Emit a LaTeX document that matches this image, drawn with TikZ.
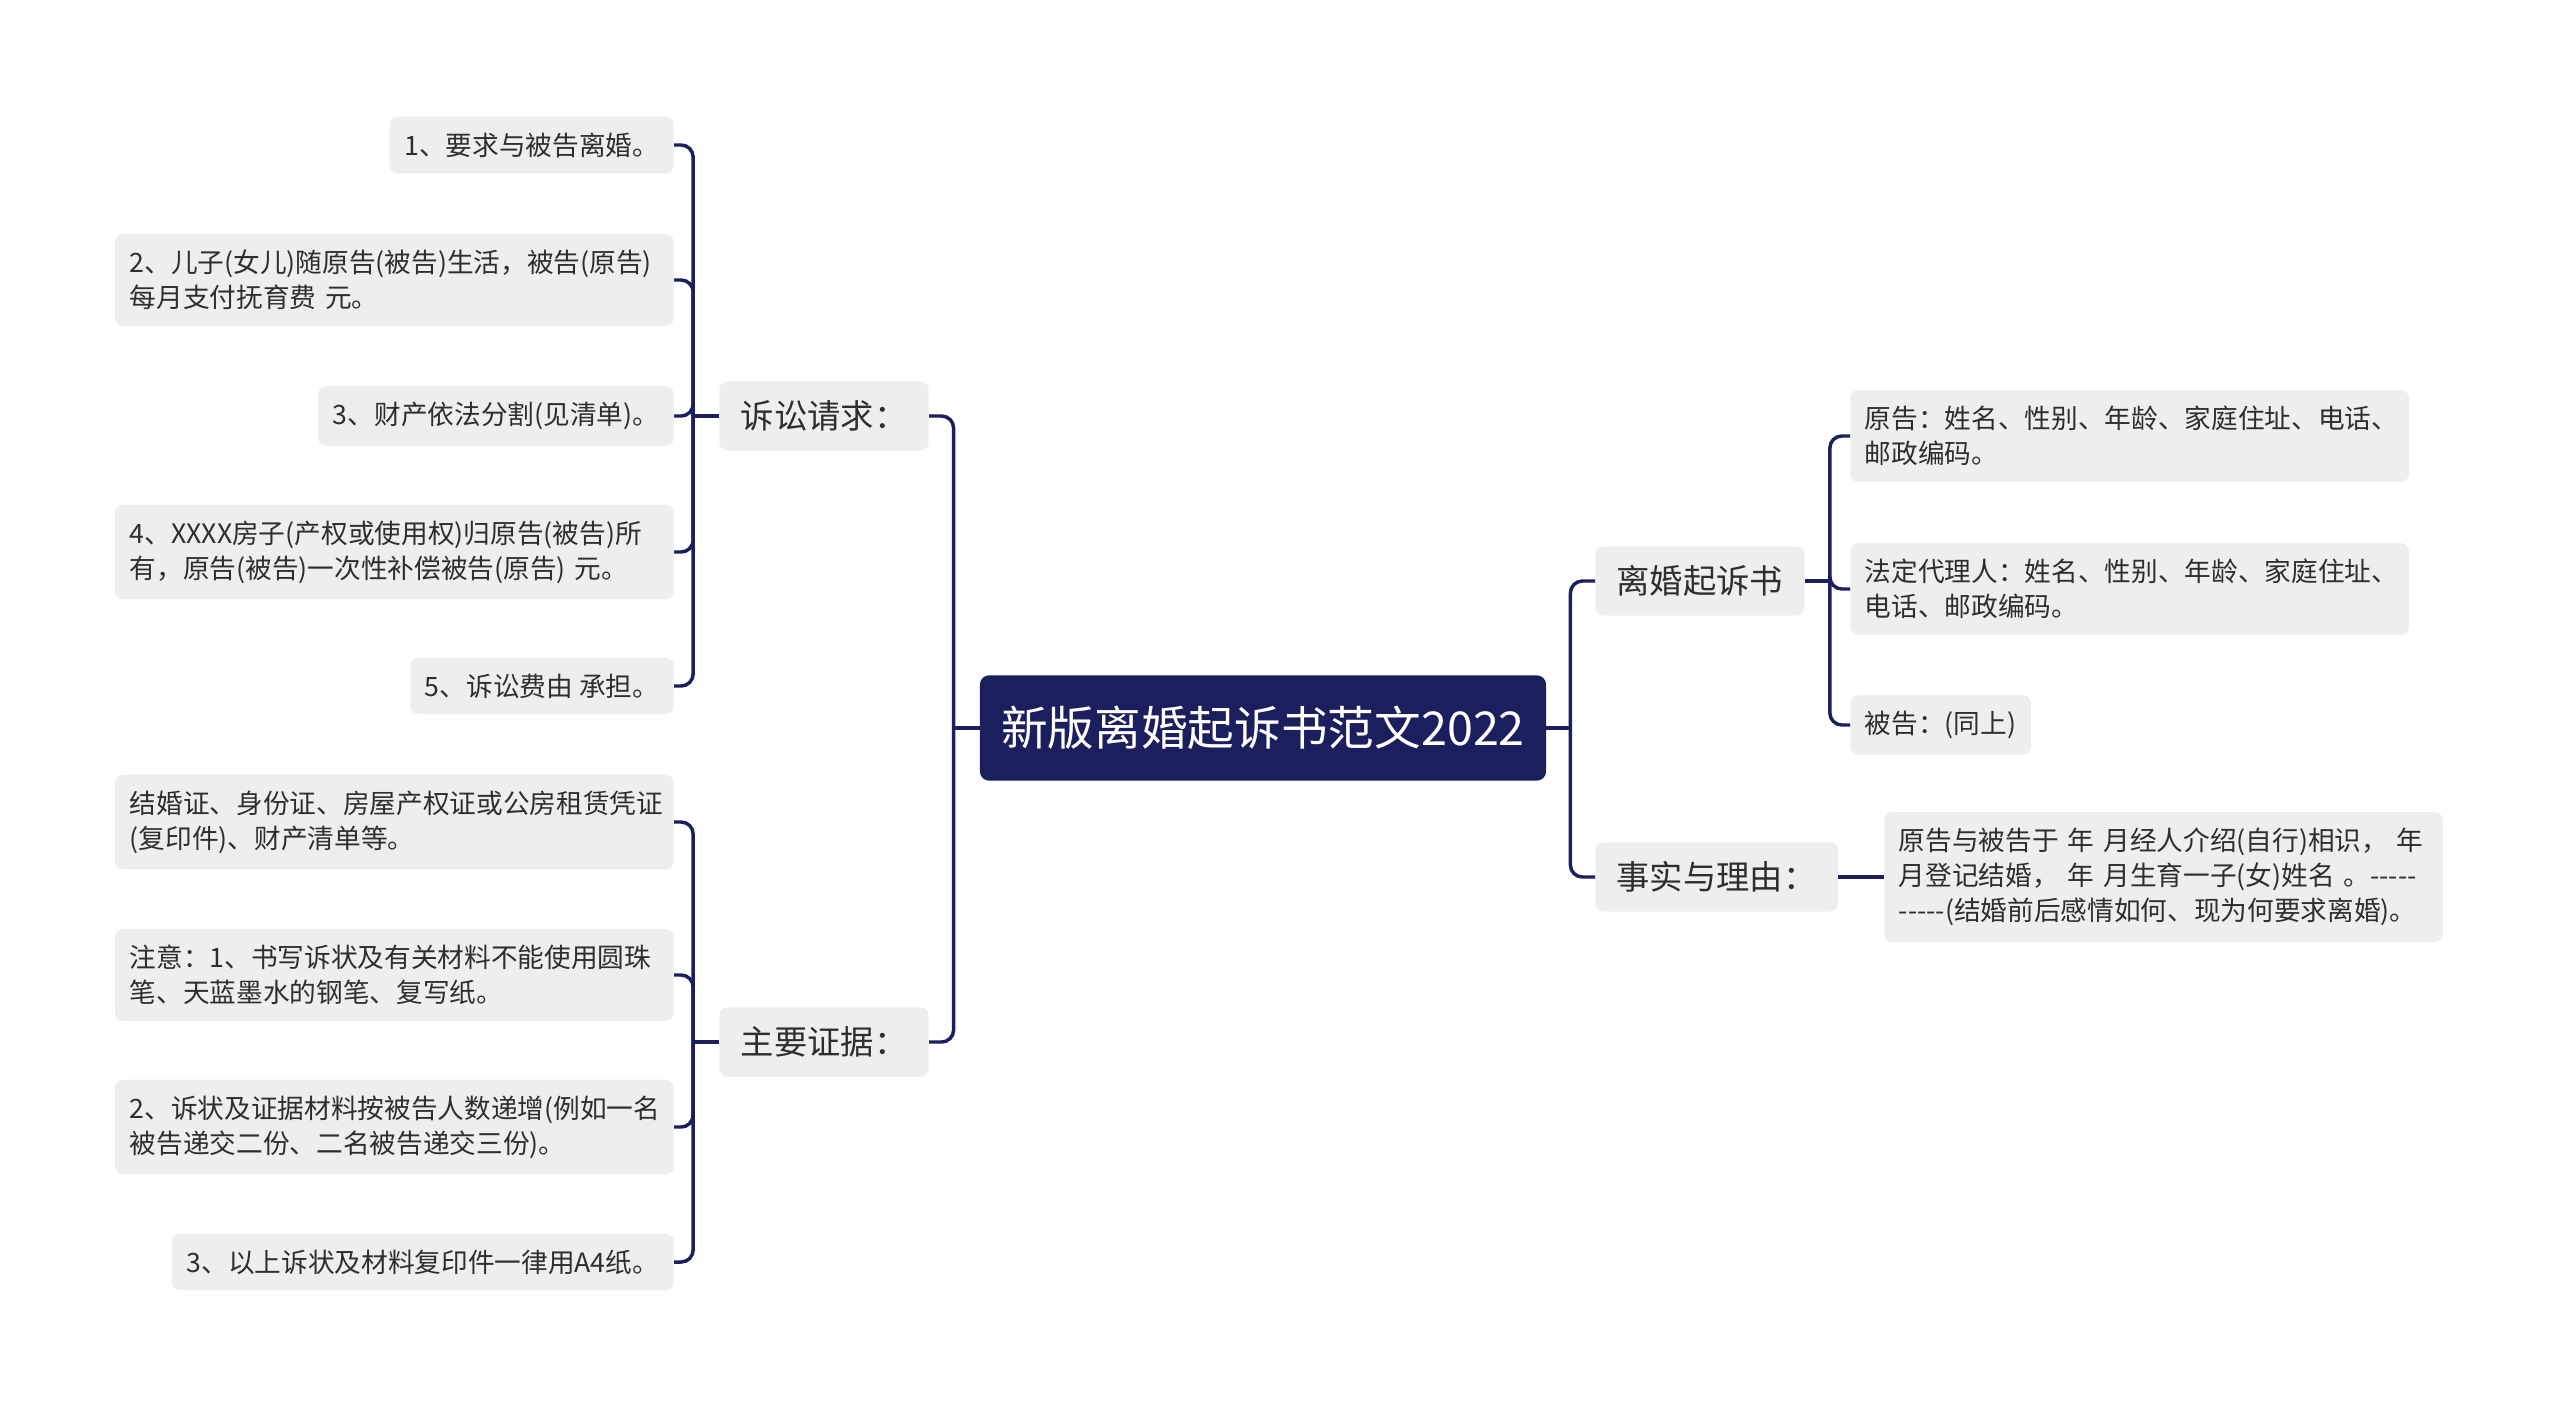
\documentclass[tikz,border=0pt]{standalone}
\usepackage{fontspec}
\setmainfont{Noto Sans CJK SC}
\usetikzlibrary{positioning}

\definecolor{navy}{HTML}{1B1F5E}
\definecolor{leafgray}{HTML}{EEEEEE}
\definecolor{txtgray}{HTML}{2E2E2E}
\newcommand\fivedash{-\kern0pt-\kern0pt-\kern0pt-\kern0pt-}

\begin{document}
\begin{tikzpicture}[x=0.75pt, y=-0.75pt,
    conn/.style={draw=navy, line width=2.6pt, rounded corners=9pt},
    rootbox/.style={fill=navy, text=white, rounded corners=7pt, inner xsep=16pt,
      minimum height=79pt, font=\fontsize{35}{40}\selectfont},
    catbox/.style={fill=leafgray, text=txtgray, rounded corners=6pt, inner xsep=16pt,
      minimum height=52pt, font=\fontsize{25}{28}\selectfont},
    leafbox/.style={fill=leafgray, text=txtgray, rounded corners=6pt, inner xsep=11pt,
      inner ysep=12pt, align=left, font=\fontsize{20}{26.25}\selectfont},
    widebox/.style={leafbox, text width=397pt}]

  \useasboundingbox (0,0) rectangle (2560,1407);

  % Centre
  \node[rootbox] (root) at (1263,728) {新版离婚起诉书范文2022};

  % Branches
  \node[catbox, anchor=east] (claim) at (929,416) {诉讼请求：};
  \node[catbox, anchor=east] (proof) at (929,1042) {主要证据：};
  \node[catbox, anchor=west] (party) at (1595,581) {离婚起诉书};
  \node[catbox, anchor=west] (facts) at (1595,877) {事实与理由：};

  % Claims
  \node[leafbox, anchor=east] (c1) at (674,145) {1、要求与被告离婚。};
  \node[widebox, anchor=east] (c2) at (674,280) {2、儿子(女儿)随原告(被告)生活，被告(原告)\\每月支付抚育费 元。};
  \node[leafbox, anchor=east] (c3) at (674,416) {3、财产依法分割(见清单)。};
  \node[widebox, anchor=east] (c4) at (674,552) {4、XXXX房子(产权或使用权)归原告(被告)所\\有，原告(被告)一次性补偿被告(原告) 元。};
  \node[leafbox, anchor=east] (c5) at (674,686) {5、诉讼费由 承担。};

  % Evidence
  \node[widebox, anchor=east] (p1) at (674,822) {结婚证、身份证、房屋产权证或公房租赁凭证\\(复印件)、财产清单等。};
  \node[widebox, anchor=east] (p2) at (674,975) {注意：1、书写诉状及有关材料不能使用圆珠\\笔、天蓝墨水的钢笔、复写纸。};
  \node[widebox, anchor=east] (p3) at (674,1127) {2、诉状及证据材料按被告人数递增(例如一名\\被告递交二份、二名被告递交三份)。};
  \node[leafbox, anchor=east] (p4) at (674,1262) {3、以上诉状及材料复印件一律用A4纸。};

  % Parties
  \node[widebox, anchor=west] (s1) at (1850,436) {原告：姓名、性别、年龄、家庭住址、电话、\\邮政编码。};
  \node[widebox, anchor=west] (s2) at (1850,589) {法定代理人：姓名、性别、年龄、家庭住址、\\电话、邮政编码。};
  \node[leafbox, anchor=west] (s3) at (1850,725) {被告：(同上)};

  % Facts
  \node[widebox, anchor=west] (f1) at (1884,877) {原告与被告于 年 月经人介绍(自行)相识， 年\\月登记结婚， 年 月生育一子(女)姓名 。\fivedash\\\fivedash(结婚前后感情如何、现为何要求离婚)。};

  % Connectors
  \draw[conn] (root.west) -- ++(-26,0) coordinate (rootL);
  \foreach \c in {claim, proof}
    \draw[conn] (rootL) |- (\c.east);
  \draw[conn] (root.east) -- ++(24,0) coordinate (rootR);
  \foreach \c in {party, facts}
    \draw[conn] (rootR) |- (\c.west);

  \draw[conn] (claim.west) -- ++(-26,0) coordinate (claimT);
  \foreach \i in {1,...,5}
    \draw[conn] (claimT) |- (c\i.east);
  \draw[conn] (proof.west) -- ++(-26,0) coordinate (proofT);
  \foreach \i in {1,...,4}
    \draw[conn] (proofT) |- (p\i.east);
  \draw[conn] (party.east) -- ++(25,0) coordinate (partyT);
  \foreach \i in {1,...,3}
    \draw[conn] (partyT) |- (s\i.west);
  \draw[conn] (facts.east) -- (f1.west);

\end{tikzpicture}
\end{document}
